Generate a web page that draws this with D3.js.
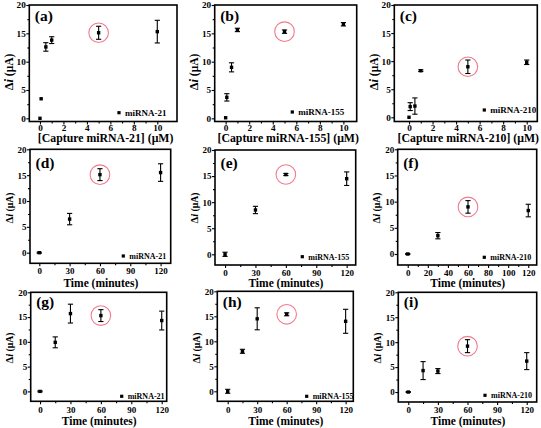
<!DOCTYPE html>
<html><head><meta charset="utf-8">
<script src="https://cdn.jsdelivr.net/npm/d3@7"></script>
<style>
body{margin:0;background:#fff}svg{display:block}
svg text{font-family:'Liberation Serif','Times New Roman','DejaVu Serif',serif;font-weight:bold;fill:#000}
</style>
</head><body>
<svg id="c" width="541" height="428"></svg>
<script>
// ---- data ----
const capConc = [0, 0.1, 0.5, 1, 5, 10];
const timeA = [0, 30, 60, 120];
const timeB = [0, 15, 30, 60, 120];
const concTicks = [0, 2, 4, 6, 8, 10];
const timeTicks = [0, 30, 60, 90, 120];
const timeTicksF = [0, 20, 40, 60, 80, 100, 120];
const yTicks = [0, 5, 10, 15, 20];

const aVal = [0, 3.45, 12.6, 13.8, 15.1, 15.3];
const aErr = [0, 0, 0.75, 0.6, 1.15, 2.0];
const bVal = [0.1, 3.7, 9.0, 15.6, 15.3, 16.6];
const bErr = [0, 0.65, 0.8, 0.3, 0.3, 0.3];
const cVal = [0, 1.9, 2.0, 8.3, 9.0, 9.8];
const cErr = [0, 0.7, 1.45, 0.15, 1.2, 0.4];
const dVal = [0, 6.5, 15.1, 15.5];
const dErr = [0.1, 1.1, 1.15, 1.7];
const eVal = [0, 8.5, 15.3, 14.5];
const eErr = [0.4, 0.7, 0.2, 1.3];
const fVal = [0, 3.5, 9.0, 8.3];
const fErr = [0.1, 0.6, 1.2, 1.2];
const gVal = [0, 9.9, 15.7, 15.3, 14.3];
const gErr = [0.1, 1.1, 1.9, 1.2, 1.9];
const hVal = [0, 8.0, 14.5, 15.4, 14.0];
const hErr = [0.4, 0.4, 2.2, 0.3, 2.4];
const iVal = [0, 4.3, 4.2, 9.2, 6.2];
const iErr = [0.1, 1.8, 0.5, 1.3, 1.7];

const panelLabels = ['(a)','(b)','(c)','(d)','(e)','(f)','(g)','(h)','(i)'];
const legendLabels = ['miRNA-21','miRNA-155','miRNA-210','miRNA-21','miRNA-155','miRNA-210','miRNA-21','miRNA-155','miRNA-210'];
const xTitles = ['[Capture miRNA-21] (μM)','[Capture miRNA-155] (μM)','[Capture miRNA-210] (μM)',
  'Time (minutes)','Time (minutes)','Time (minutes)','Time (minutes)','Time (minutes)','Time (minutes)'];
const highlightX = [5,5,5,60,60,60,60,60,60];

// ---- layout ----
const rows = [
  {tick:9.2, title:11.8, ytitle:12.5, leg:9, lab:15.5, labY:21, tickPad:0, titleY:142, ytY:72},
  {tick:9, title:11.5, ytitle:10.5, leg:8, lab:15.5, labY:168, tickPad:1.5, titleY:286.5, ytY:208},
  {tick:9, title:11.5, ytitle:10.5, leg:8, lab:15.5, labY:307, tickPad:2, titleY:424.5, ytY:348}
];
const panels = [
  {x:capConc, y:aVal, e:aErr, xt:concTicks, xm:1, box:[29.3,5,177,121.5], xd:[-0.91,11.68], yd:[-0.56,20], row:0, leg:[119,112.7]},
  {x:capConc, y:bVal, e:bErr, xt:concTicks, xm:1, box:[214.7,5,356.7,121.5], xd:[-0.93,11.13], yd:[-0.56,20], row:0, leg:[292.3,112]},
  {x:capConc, y:cVal, e:cErr, xt:concTicks, xm:1, box:[394.3,5,537.3,121.5], xd:[-1.25,10.9], yd:[-0.75,20], row:0, leg:[484.3,110]},
  {x:timeA, y:dVal, e:dErr, xt:timeTicks, xm:15, box:[30,149.3,170.7,263.3], xd:[-9.2,130], yd:[-2.05,20], row:1, leg:[123.3,256]},
  {x:timeA, y:eVal, e:eErr, xt:timeTicks, xm:15, box:[215,150,355.7,265], xd:[-9.9,128.9], yd:[-2.05,20], row:1, leg:[302.3,256.7]},
  {x:timeA, y:fVal, e:fErr, xt:timeTicksF, xm:10, box:[397.7,149.3,536.7,265], xd:[-10,128.4], yd:[-2.1,20], row:1, leg:[484.3,257.3]},
  {x:timeB, y:gVal, e:gErr, xt:timeTicks, xm:15, box:[30.7,292.3,166.7,401.3], xd:[-9.2,124.9], yd:[-2,20], row:2, leg:[121.7,396.3]},
  {x:timeB, y:hVal, e:hErr, xt:timeTicks, xm:15, box:[217.3,291.3,353.3,401.3], xd:[-10.6,127.8], yd:[-2,20], row:2, leg:[306.7,396.3]},
  {x:timeB, y:iVal, e:iErr, xt:timeTicks, xm:15, box:[398.3,292.3,536.7,402], xd:[-10.1,130.1], yd:[-2,20], row:2, leg:[485,395.3]}
];

const svg = d3.select('#c');

panels.forEach((p, k) => {
  const R = rows[p.row];
  const [x0,y0,x1,y1] = p.box;
  const xs = d3.scaleLinear().domain(p.xd).range([x0,x1]);
  const ys = d3.scaleLinear().domain(p.yd).range([y1,y0]);
  const g = svg.append('g');

  // minor ticks
  const xMin = d3.range(p.xt[0], p.xt[p.xt.length-1]+1e-9, p.xm).filter(v => !p.xt.includes(v));
  const yMin = [2.5, 7.5, 12.5, 17.5];
  g.append('g').attr('transform',`translate(0,${y1})`)
    .call(d3.axisBottom(xs).tickValues(xMin).tickSize(2).tickFormat(''));
  g.append('g').attr('transform',`translate(${x0},0)`)
    .call(d3.axisLeft(ys).tickValues(yMin).tickSize(2).tickFormat(''));

  const xAx = d3.axisBottom(xs).tickValues(p.xt).tickSize(3).tickPadding(R.tickPad).tickFormat(d3.format('d'));
  const yAx = d3.axisLeft(ys).tickValues(yTicks).tickSize(3).tickPadding(0.5).tickFormat(d3.format('d'));
  g.append('g').attr('class','ax').attr('transform',`translate(0,${y1})`).call(xAx);
  g.append('g').attr('class','ax').attr('transform',`translate(${x0},0)`).call(yAx);
  g.selectAll('.domain').remove();
  g.selectAll('.tick line').attr('stroke','#000').attr('stroke-width',1.1);
  g.selectAll('.ax text').attr('font-family',null).style('font-size',R.tick+'px');

  // frame
  g.append('rect').attr('x',x0).attr('y',y0).attr('width',x1-x0).attr('height',y1-y0)
    .attr('fill','none').attr('stroke','#000').attr('stroke-width',1.6);

  // highlight circle
  const hi = p.x.indexOf(highlightX[k]);
  g.append('circle').attr('cx',xs(p.x[hi])).attr('cy',ys(p.y[hi])).attr('r',9.8)
    .attr('fill','none').attr('stroke','#f27a8e').attr('stroke-width',1.1);

  // error bars
  const pts = p.x.map((xv,j) => ({x:xv, y:p.y[j], e:p.e[j]}));
  const eb = g.selectAll('.eb').data(pts.filter(d => d.e > 0)).enter().append('g');
  eb.append('line').attr('x1',d=>xs(d.x)).attr('x2',d=>xs(d.x))
    .attr('y1',d=>ys(d.y-d.e)).attr('y2',d=>ys(d.y+d.e)).attr('stroke','#000').attr('stroke-width',1.1);
  [-1,1].forEach(s => {
    eb.append('line').attr('x1',d=>xs(d.x)-2.6).attr('x2',d=>xs(d.x)+2.6)
      .attr('y1',d=>ys(d.y+s*d.e)).attr('y2',d=>ys(d.y+s*d.e)).attr('stroke','#000').attr('stroke-width',1.1);
  });
  // markers
  g.selectAll('.pt').data(pts).enter().append('rect')
    .attr('x',d=>xs(d.x)-1.7).attr('y',d=>ys(d.y)-1.7).attr('width',3.4).attr('height',3.4).attr('fill','#000');

  // legend
  g.append('rect').attr('x',p.leg[0]-1.6).attr('y',p.leg[1]-1.6).attr('width',3.2).attr('height',3.2).attr('fill','#000');
  g.append('text').attr('x',p.leg[0]+6).attr('y',p.leg[1]).attr('dy','0.35em')
    .style('font-size',R.leg+'px').text(legendLabels[k]);

  // panel label
  g.append('text').attr('x',x0+5.5).attr('y',R.labY).style('font-size',R.lab+'px').text(panelLabels[k]);

  // x title
  g.append('text').attr('x',(x0+x1)/2 + (p.row===0?2.5:0.5)).attr('y',R.titleY).attr('text-anchor','middle')
    .style('font-size',R.title+'px').text(xTitles[k]);

  // y title
  const yt = g.append('text').attr('transform',`translate(${x0-21},${R.ytY}) rotate(-90)`)
    .attr('text-anchor','middle').attr('dy','0.35em').style('font-size',R.ytitle+'px');
  yt.append('tspan').text('Δ');
  yt.append('tspan').style('font-style','italic').text('i');
  yt.append('tspan').style('font-size',(R.ytitle*0.92)+'px').text(' (μA)');
});
</script>
</body></html>
